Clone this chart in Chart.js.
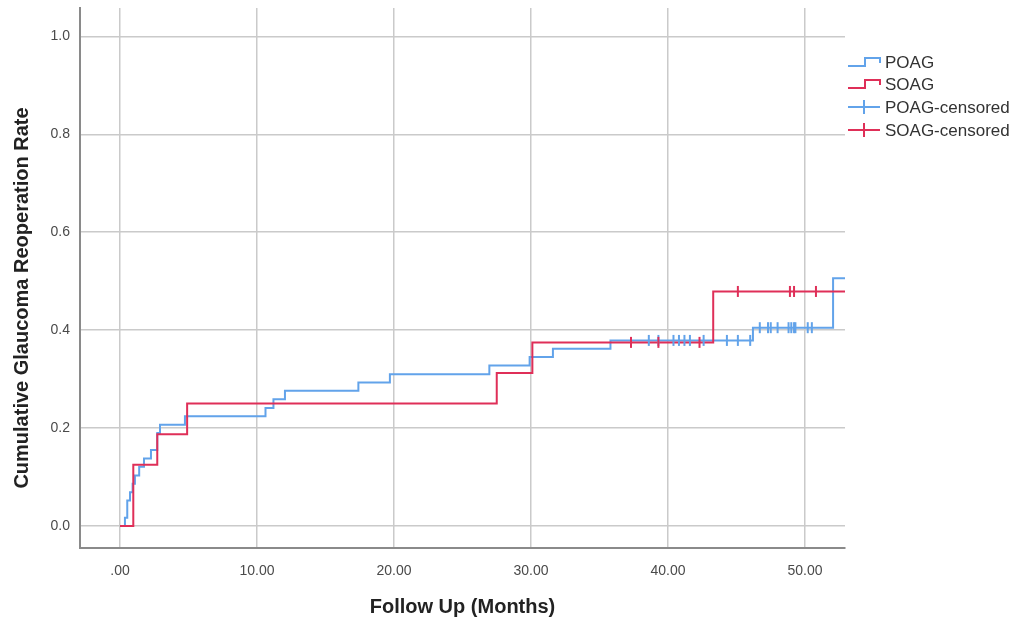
<!DOCTYPE html>
<html>
<head>
<meta charset="utf-8">
<script src="https://cdn.jsdelivr.net/npm/chart.js@4.4.1/dist/chart.umd.min.js"></script>
<style>
  html, body { margin: 0; padding: 0; background: #fff; }
  #wrap { width: 1023px; height: 627px; }
</style>
</head>
<body>
<div id="wrap"><canvas id="kmChart" width="1023" height="627"></canvas></div>
<script>
// ==========================
// DATA
// ==========================
const poagTimes = [0, 0.36, 0.53, 0.73, 0.92, 1.09, 1.4, 1.75, 2.26, 2.72, 2.92, 4.74,
  10.62, 11.2, 12.04, 17.4, 19.7, 26.96, 29.9, 31.6, 35.8, 46.2, 52.05, 52.92];
const poagRates = [0, 0.017, 0.052, 0.069, 0.086, 0.103, 0.121, 0.138, 0.155, 0.190, 0.207, 0.224,
  0.241, 0.259, 0.276, 0.293, 0.310, 0.328, 0.345, 0.362, 0.379, 0.405, 0.506, 0.506];

const soagTimes = [0, 0.97, 2.72, 4.9, 27.5, 30.1, 43.3, 52.92];
const soagRates = [0, 0.125, 0.1875, 0.25, 0.3125, 0.375, 0.479, 0.479];

const poagCensorTimes = [38.6, 39.3, 40.4, 40.8, 41.2, 41.6, 42.6, 44.3, 45.1, 46.0,
  46.7, 47.3, 47.5, 48.0, 48.8, 49.0, 49.2, 49.3, 50.2, 50.5];
const poagCensorRates = [0.379, 0.379, 0.379, 0.379, 0.379, 0.379, 0.379, 0.379, 0.379, 0.379,
  0.405, 0.405, 0.405, 0.405, 0.405, 0.405, 0.405, 0.405, 0.405, 0.405];

const soagCensorTimes = [37.3, 39.3, 42.3, 45.1, 48.9, 49.2, 50.8];
const soagCensorRates = [0.375, 0.375, 0.375, 0.479, 0.479, 0.479, 0.479];

const xTickValues = [0, 10, 20, 30, 40, 50];
const xTickLabels = [".00", "10.00", "20.00", "30.00", "40.00", "50.00"];
const yTickValues = [0, 0.2, 0.4, 0.6, 0.8, 1.0];
const yTickLabels = ["0.0", "0.2", "0.4", "0.6", "0.8", "1.0"];

const legendLabels = ["POAG", "SOAG", "POAG-censored", "SOAG-censored"];
const xTitle = "Follow Up (Months)";
const yTitle = "Cumulative Glaucoma Reoperation Rate";

// ==========================
// STYLE
// ==========================
const FONT = '"Liberation Sans", Arial, sans-serif';
const BLUE = "#62a3ea";
const RED = "#df2f58";
const GRID = "#cacaca";

const toPoints = (xs, ys) => xs.map((x, i) => ({ x: x, y: ys[i] }));

// ==========================
// PLUGINS
// ==========================
const yTitlePlugin = {
  id: "yTitle",
  afterDraw(chart) {
    const ctx = chart.ctx;
    ctx.save();
    ctx.translate(22, 298);
    ctx.rotate(-Math.PI / 2);
    ctx.font = "bold 20px " + FONT;
    ctx.fillStyle = "#222";
    ctx.textAlign = "center";
    ctx.textBaseline = "middle";
    ctx.fillText(yTitle, 0, 0);
    ctx.restore();
  }
};

const kmLegend = {
  id: "kmLegend",
  afterDraw(chart) {
    const ctx = chart.ctx;
    const x0 = chart.chartArea.right + 3;
    const rows = [62, 84, 107, 130];
    const colors = [BLUE, RED, BLUE, RED];
    ctx.save();
    ctx.lineWidth = 2;
    rows.forEach((y, i) => {
      ctx.strokeStyle = colors[i];
      ctx.beginPath();
      if (i < 2) {
        // step icon
        ctx.moveTo(x0, y + 4);
        ctx.lineTo(x0 + 17, y + 4);
        ctx.lineTo(x0 + 17, y - 4);
        ctx.lineTo(x0 + 32, y - 4);
        ctx.lineTo(x0 + 32, y + 1);
      } else {
        // censor icon
        ctx.moveTo(x0, y);
        ctx.lineTo(x0 + 32, y);
        ctx.moveTo(x0 + 16, y - 7);
        ctx.lineTo(x0 + 16, y + 7);
      }
      ctx.stroke();
      ctx.font = "17px " + FONT;
      ctx.fillStyle = "#333";
      ctx.textAlign = "left";
      ctx.textBaseline = "middle";
      ctx.fillText(legendLabels[i], x0 + 37, y + 1);
    });
    ctx.restore();
  }
};

// ==========================
// CHART
// ==========================
const ctx = document.getElementById("kmChart").getContext("2d");

new Chart(ctx, {
  type: "line",
  data: {
    datasets: [
      {
        label: legendLabels[0],
        data: toPoints(poagTimes, poagRates),
        borderColor: BLUE,
        borderWidth: 2,
        stepped: true,
        pointRadius: 0,
        fill: false,
        order: 4
      },
      {
        label: legendLabels[1],
        data: toPoints(soagTimes, soagRates),
        borderColor: RED,
        borderWidth: 2,
        stepped: true,
        pointRadius: 0,
        fill: false,
        order: 3
      },
      {
        label: legendLabels[2],
        data: toPoints(poagCensorTimes, poagCensorRates),
        showLine: false,
        pointStyle: "line",
        pointRotation: 90,
        pointRadius: 5.5,
        pointBorderColor: BLUE,
        pointBorderWidth: 2,
        order: 2
      },
      {
        label: legendLabels[3],
        data: toPoints(soagCensorTimes, soagCensorRates),
        showLine: false,
        pointStyle: "line",
        pointRotation: 90,
        pointRadius: 5.5,
        pointBorderColor: RED,
        pointBorderWidth: 2,
        order: 1
      }
    ]
  },
  options: {
    responsive: false,
    animation: false,
    devicePixelRatio: 1,
    layout: { padding: { top: 8, right: 178, left: 0, bottom: 0 } },
    plugins: {
      legend: { display: false },
      tooltip: { enabled: false }
    },
    scales: {
      x: {
        type: "linear",
        min: -2.92,
        max: 52.92,
        afterBuildTicks: s => { s.ticks = xTickValues.map(v => ({ value: v })); },
        afterFit: s => { s.height = 79; s.paddingLeft = 0; s.paddingRight = 0; },
        ticks: {
          callback: (v, i) => xTickLabels[i],
          color: "#4a4a4a",
          font: { family: FONT, size: 14 },
          padding: 15,
          maxRotation: 0
        },
        grid: { color: GRID, lineWidth: 1.5, drawTicks: false },
        border: { display: true, color: "#8a8a8a", width: 2 },
        title: {
          display: true,
          text: xTitle,
          color: "#222",
          font: { family: FONT, size: 20, weight: "bold" },
          padding: { top: 0, bottom: 8 }
        }
      },
      y: {
        type: "linear",
        min: -0.045,
        max: 1.058,
        afterBuildTicks: s => { s.ticks = yTickValues.map(v => ({ value: v })); },
        afterFit: s => { s.width = 80; s.paddingTop = 0; s.paddingBottom = 0; },
        ticks: {
          callback: (v, i) => yTickLabels[i],
          color: "#4a4a4a",
          font: { family: FONT, size: 14 },
          padding: 10
        },
        grid: { color: GRID, lineWidth: 1.5, drawTicks: false },
        border: { display: true, color: "#8a8a8a", width: 2 }
      }
    }
  },
  plugins: [yTitlePlugin, kmLegend]
});
</script>
</body>
</html>
